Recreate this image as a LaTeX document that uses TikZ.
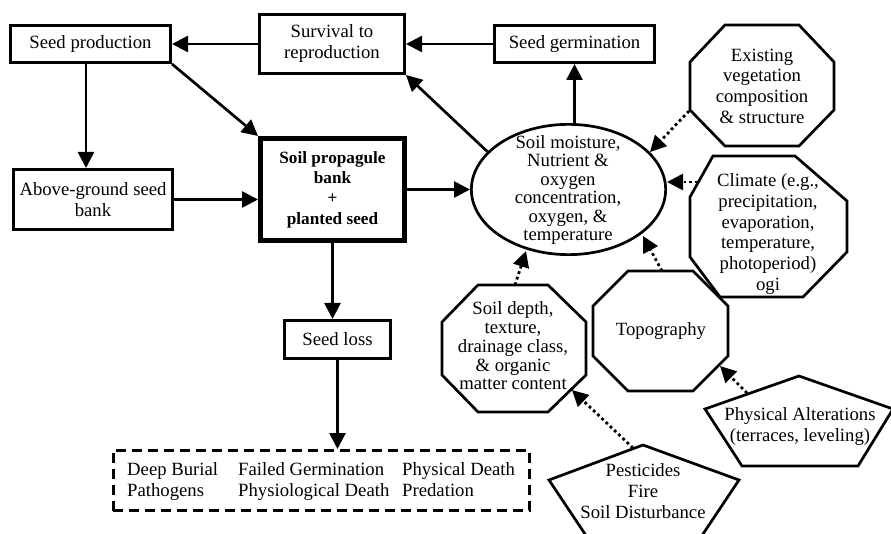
\documentclass[tikz,border=0pt]{standalone}
\usepackage{fontspec}
\setmainfont{Liberation Serif}
\usetikzlibrary{arrows.meta,shapes.geometric}
\begin{document}
\begin{tikzpicture}[x=1pt,y=-1pt,
  box/.style={draw,line width=2.7pt,inner sep=0pt,align=center,font=\fontsize{18.7}{21}\selectfont},
  lbl/.style={inner sep=0pt,align=center,font=\fontsize{18.7}{21}\selectfont},
  arr/.style={line width=2.7pt,-{Triangle[length=16pt,width=16pt]}},
  dotarr/.style={line width=2.8pt,dash pattern=on 2.8pt off 3pt,-{Triangle[length=16pt,width=16pt]}},
  shp/.style={line width=2.7pt,line join=miter}
]
\clip (0,0) rectangle (891,534);
\fill[white] (0,0) rectangle (891,534);

% boxes
\node[box,minimum width=160.3pt,minimum height=37.3pt] (sp) at (90.5,44) {Seed production};
\node[box,minimum width=145.3pt,minimum height=59.3pt] (surv) at (332,44) {Survival to\\reproduction};
\node[box,minimum width=160.3pt,minimum height=37.3pt] (germ) at (574.5,44) {Seed germination};
\node[box,minimum width=159.3pt,minimum height=60.3pt] (agb) at (93,199.5) {Above-ground seed\\bank};
\node[box,line width=5pt,minimum width=144pt,minimum height=102pt,font=\bfseries\fontsize{17.2}{20.3}\selectfont] (bank) at (332.5,189.5) {Soil propagule\\bank\\+\\planted seed};
\node[box,minimum width=106.3pt,minimum height=38.3pt] (loss) at (337.5,339.5) {Seed loss};
\node[draw,line width=2.7pt,dash pattern=on 10pt off 6pt,minimum width=416.3pt,minimum height=60.3pt,inner sep=0pt] (dbox) at (321.5,480.5) {};
\node[inner sep=0pt,anchor=west,font=\fontsize{18.7}{21.5}\selectfont] (dtxt) at (127,481.5)
  {\begin{tabular}{@{}p{111pt}@{}p{164pt}@{}l@{}}
   Deep Burial & Failed Germination & Physical Death\\
   Pathogens & Physiological Death & Predation
   \end{tabular}};

% ellipse
\node[draw,ellipse,line width=2.7pt,minimum width=194.3pt,minimum height=130.3pt,inner sep=0pt] (ell) at (568.5,189.5) {};
\node[lbl,font=\fontsize{18.7}{18.5}\selectfont] (elltxt) at (568,190) {Soil moisture,\\Nutrient \&\\oxygen\\concentration,\\oxygen, \&\\temperature};

% octagons
\draw[shp] (725,25) -- (799,25) -- (834,62) -- (834,110) -- (799,146) -- (725,146) -- (690,110) -- (690,62) -- cycle;
\node[lbl,font=\fontsize{18.7}{20.7}\selectfont] (veg) at (762,86) {Existing\\vegetation\\composition\\\& structure};

\draw[shp] (713,156) -- (795,156) -- (847,201) -- (847,252) -- (803,297) -- (720,297) -- (690,257) -- (690,197) -- cycle;
\node[lbl,font=\fontsize{18.7}{20.8}\selectfont] (clim) at (768,234) {Climate (e.g.,\\precipitation,\\evaporation,\\temperature,\\photoperiod)\\ogi};

\draw[shp] (478,285) -- (548,285) -- (586,322) -- (586,375) -- (548,412) -- (478,412) -- (442,375) -- (442,322) -- cycle;
\node[lbl,font=\fontsize{18.7}{18.8}\selectfont] (soil) at (513,346) {Soil depth,\\texture,\\drainage class,\\\& organic\\matter content};

\draw[shp] (628,271) -- (693,271) -- (728,306) -- (728,356) -- (693,391) -- (628,391) -- (593,356) -- (593,306) -- cycle;
\node[lbl] (topo) at (661,331) {Topography};

% pentagons
\draw[shp] (799,376) -- (893,409) -- (858,466) -- (742,466) -- (705,409) -- cycle;
\node[lbl,font=\fontsize{18.7}{21}\selectfont] (phys) at (800,427) {Physical Alterations\\(terraces, leveling)};

\draw[shp] (643,445) -- (739,480) -- (699,540) -- (589,540) -- (549,480) -- cycle;
\node[lbl,font=\fontsize{18.7}{21}\selectfont] (pest) at (643,491) {Pesticides\\Fire\\Soil Disturbance};

% solid arrows
\coordinate (ax) at (86,0);
\draw[arr] (surv.west) -- (sp.east);
\draw[arr] (germ.west) -- (surv.east);
\draw[arr] (sp.south -| ax) -- (agb.north -| ax);
\draw[arr] (sp.south east) -- (bank.north west);
\draw[arr] (agb.east) -- (agb.east -| bank.west);
\draw[arr] (bank.east) -- (ell.west);
\draw[arr] (ell.155) -- (surv.south east);
\draw[arr] (germ.south |- ell.north) -- (germ.south);
\draw[arr] (bank.south) -- (bank.south |- loss.north);
\draw[arr] (loss.south) -- (loss.south |- dbox.north);

% dotted arrows
\coordinate (v1) at (689,111); \coordinate (v2) at (650,152);
\coordinate (c1) at (698,182); \coordinate (c2) at (667,182);
\coordinate (t1) at (662,271); \coordinate (t2) at (643,236);
\coordinate (s1) at (515,285); \coordinate (s2) at (526,251);
\coordinate (p1) at (633,448); \coordinate (p2) at (572,390);
\coordinate (a1) at (747,393); \coordinate (a2) at (720,366);
\draw[dotarr] (v1) -- (v2);
\draw[dotarr] (c1) -- (c2);
\draw[dotarr] (t1) -- (t2);
\draw[dotarr] (s1) -- (s2);
\draw[dotarr] (p1) -- (p2);
\draw[dotarr] (a1) -- (a2);
\end{tikzpicture}
\end{document}
